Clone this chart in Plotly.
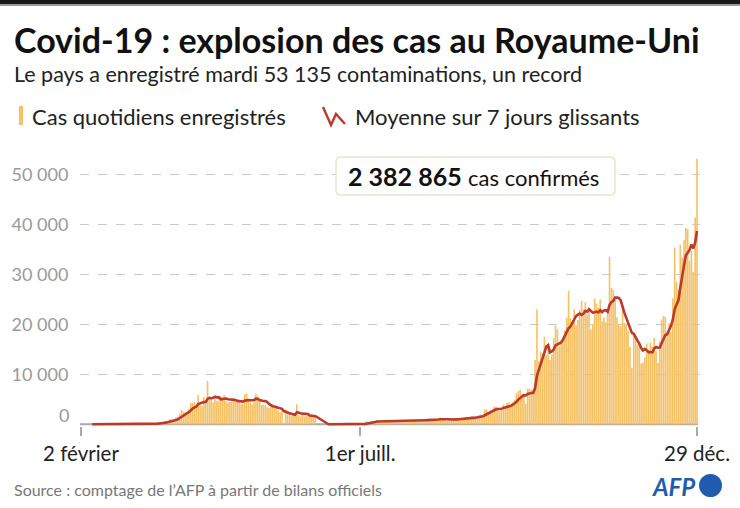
import plotly.graph_objects as go
import pandas as pd

# ---------------- DATA ----------------
debut = "2020-02-02"

cas_fev = [0, 0, 0, 0, 1, 0, 0, 0, 4, 1, 0, 1, 0, 0, 0, 0, 0, 0, 0, 0, 0, 4, 0, 0, 3, 2, 3, 3]
cas_mars = [13, 4, 11, 34, 30, 48, 43, 67, 48, 61, 83, 134, 208, 342, 251, 152, 407, 676, 643, 714,
            1035, 665, 967, 1427, 1452, 2129, 2885, 2546, 2433, 2619, 3009]
cas_avr = [4324, 4244, 4450, 3735, 5903, 3802, 3634, 5491, 4344, 8681, 5233, 5288, 4342, 5252, 4603,
           4617, 5599, 5525, 5850, 4676, 4301, 4451, 4583, 5386, 4913, 4463, 4309, 3996, 4076, 6032]
cas_mai = [6201, 4806, 4339, 3985, 4406, 6111, 5614, 4649, 3896, 3923, 3877, 3403, 3242, 3446, 3560,
           3450, 3534, 2684, 2412, 2615, 300, 2959, 2012, 2409, 1625, 1887, 2095, 4000, 1805, 1557, 1936]
cas_juin = [1570, 1653, 1871, 1805, 1650, 1557, 1326, 0, 0, 0, 0, 0, 0, 0, 0,
            0, 0, 0, 0, 0, 0, 0, 0, 0, 0, 0, 0, 0, 0, 0]
cas_juil = [0, 0, 0, 624, 516, 352, 581, 630, 512, 820, 651, 650, 530, 538, 463, 642, 687, 827, 726,
            580, 445, 560, 769, 768, 767, 747, 685, 581, 763, 846, 880]
cas_aout = [744, 742, 938, 670, 892, 950, 871, 758, 1062, 816, 1148, 1009, 1441, 1012, 1040, 713, 713,
            1089, 812, 1182, 1033, 1288, 1041, 853, 1184, 1048, 1522, 1276, 1108, 1715, 1406]
cas_sept = [1295, 1508, 1735, 1940, 1813, 2988, 2948, 2460, 2659, 2919, 3539, 3497, 3330, 2621, 3105,
            3991, 3395, 4322, 4422, 3899, 4368, 4926, 6178, 6634, 6874, 6042, 5693, 4044, 7143, 7108]
cas_oct = [6914, 6968, 12872, 22961, 12594, 14542, 14162, 17540, 13864, 15166, 12872, 13972, 17234,
           19724, 18980, 15650, 16171, 16982, 18804, 21331, 26688, 21242, 20530, 23012, 19790, 20890,
           22885, 24701, 23065, 24405, 21915]
cas_nov = [23254, 18950, 20018, 25177, 24141, 23287, 24957, 20572, 21350, 20412, 22950, 33470, 27301,
           26860, 24962, 21363, 20051, 19609, 22915, 20252, 19875, 18662, 15450, 11299, 18213, 17555,
           16022, 15871, 12155, 12330]
cas_dec = [13430, 16170, 14879, 16298, 15539, 17272, 14718, 12282, 16578, 20964, 21672, 21502, 18447,
           20263, 18450, 25161, 35383, 28507, 27052, 35928, 33364, 36804, 39237, 39036, 32725, 34693,
           30501, 41385, 53135]

moy_fev = [None, None, None, None, None, None, 0.1, 0.1, 0.7, 0.9, 0.9, 0.9, 0.9, 0.9, 0.9, 0.3, 0.1,
           0.1, 0, 0, 0, 0.6, 0.6, 0.6, 1.0, 1.3, 1.7, 2.1]
moy_mars = [3, 4, 6, 10, 14, 20, 26, 34, 40, 47, 54, 69, 92, 135, 161, 176, 225, 310, 383, 455, 554,
            613, 730, 875, 986, 1198, 1509, 1724, 1977, 2213, 2439]
moy_avr = [2849, 3151, 3375, 3545, 4041, 4210, 4299, 4466, 4480, 5084, 5298, 5210, 5288, 5519, 5392,
           5431, 4991, 5032, 5113, 5160, 5024, 5003, 4998, 4967, 4880, 4682, 4629, 4586, 4532, 4739]
moy_mai = [4856, 4840, 4823, 4776, 4835, 5126, 5066, 4844, 4714, 4655, 4639, 4496, 4086, 3777, 3621,
           3557, 3502, 3331, 3190, 3100, 2651, 2565, 2359, 2199, 2047, 1972, 1898, 2427, 2262, 2197, 2129]
moy_juin = [2121, 2088, 2056, 1742, 1720, 1720, 1633, 1409, 1173, 905, 648, 412, 189, 0, 0,
            0, 0, 0, 0, 0, 0, 0, 0, 0, 0, 0, 0, 0, 0, 0]
moy_juil = [0, 0, 0, 89, 163, 213, 296, 386, 459, 576, 580, 599, 625, 619, 595, 613, 594, 620, 630,
            638, 624, 638, 656, 668, 659, 662, 677, 697, 726, 737, 753]
moy_aout = [749, 749, 785, 798, 816, 831, 830, 832, 877, 860, 928, 945, 1015, 1035, 1075, 1026, 1011,
            1002, 974, 937, 940, 976, 1023, 1043, 1056, 1090, 1138, 1173, 1147, 1244, 1323]
moy_sept = [1339, 1404, 1435, 1530, 1630, 1812, 2032, 2199, 2363, 2532, 2761, 3001, 3050, 3004, 3096,
            3286, 3354, 3466, 3598, 3679, 3929, 4189, 4501, 4964, 5329, 5560, 5816, 5770, 6087, 6220]
moy_oct = [6260, 6273, 7249, 9716, 10937, 11994, 13002, 14520, 15505, 15833, 14391, 14588, 14973,
           15767, 15973, 16228, 16372, 16959, 17649, 18235, 19229, 19553, 20250, 21227, 21628, 21926,
           22148, 21864, 22125, 22678, 22522]
moy_nov = [23016, 22739, 22330, 22398, 22551, 22392, 22826, 22443, 22786, 22842, 22524, 23857, 24430,
           24702, 25329, 25331, 25280, 24802, 23294, 22287, 21290, 20390, 19545, 18295, 18095, 17329,
           16725, 16153, 15224, 14778]
moy_dec = [15082, 14790, 14408, 14448, 14400, 15131, 15472, 15308, 15367, 16236, 17004, 17855, 18023,
           18815, 19697, 20923, 22983, 23959, 24752, 27249, 29121, 31743, 33754, 34275, 34878, 35970,
           35194, 36340, 38673]

y_ticks = [10000, 20000, 30000, 40000, 50000]
y_labels = ["10 000", "20 000", "30 000", "40 000", "50 000"]
x_ticks = ["2020-02-02", "2020-07-01", "2020-12-29"]
x_labels = ["2 février", "1er juill.", "29 déc."]

total_label = "2 382 865"

cas = cas_fev + cas_mars + cas_avr + cas_mai + cas_juin + cas_juil + cas_aout + cas_sept + cas_oct + cas_nov + cas_dec
moy = moy_fev + moy_mars + moy_avr + moy_mai + moy_juin + moy_juil + moy_aout + moy_sept + moy_oct + moy_nov + moy_dec
dates = pd.date_range(debut, periods=len(cas), freq="D")

# ---------------- LAYOUT HELPERS ----------------
WIDTH, HEIGHT = 740, 508
L, R, T, B = 80, 40, 149, 82
W = WIDTH - L - R
H = HEIGHT - T - B


def fx(px):
    return (px - L) / W


def fy(py):
    return (HEIGHT - B - py) / H


FONT = "Lato"
BAR = "#F6C164"
LINE = "#BC3A2B"
AFP_BLUE = "#1F5CB0"

fig = go.Figure()
fig.add_trace(go.Bar(x=dates, y=cas, marker=dict(color=BAR, line=dict(width=0)), hoverinfo="skip"))
fig.add_trace(go.Scatter(x=dates, y=moy, mode="lines", line=dict(color=LINE, width=2.6),
                         connectgaps=False, hoverinfo="skip"))

px_per_day = 616 / 331.0
x0 = pd.Timestamp(x_ticks[0]) - pd.Timedelta(days=1 / px_per_day)
x1 = pd.Timestamp(x_ticks[-1]) + pd.Timedelta(days=3 / px_per_day)

fig.update_layout(
    width=WIDTH, height=HEIGHT,
    margin=dict(l=L, r=R, t=T, b=B, autoexpand=False),
    paper_bgcolor="white", plot_bgcolor="white",
    showlegend=False, bargap=0.12, hovermode=False,
    font=dict(family=FONT, color="#222"),
    xaxis=dict(type="date", range=[x0, x1], tickvals=x_ticks, ticktext=x_labels,
               ticks="outside", ticklen=9, tickwidth=1.5, tickcolor="#aaaaaa",
               showgrid=False, showline=False, zeroline=False, automargin=False,
               tickfont=dict(family=FONT, size=20.5, color="#222")),
    yaxis=dict(range=[-340, 55060], tickvals=y_ticks, ticktext=y_labels,
               showgrid=True, gridcolor="#c9c9c9", griddash="dash", gridwidth=1,
               zeroline=False, showline=False, ticks="outside", ticklen=7,
               tickcolor="rgba(0,0,0,0)", automargin=False,
               tickfont=dict(family=FONT, size=18, color="#9a9a9a")),
)

shapes = []
# top black band
shapes.append(dict(type="rect", xref="paper", yref="paper", x0=fx(0), x1=fx(WIDTH), y0=fy(4), y1=fy(0),
                   fillcolor="#1a1a1a", line=dict(width=0), layer="above"))
shapes.append(dict(type="rect", xref="paper", yref="paper", x0=fx(0), x1=fx(WIDTH), y0=fy(6), y1=fy(4),
                   fillcolor="#9a9a9a", line=dict(width=0), layer="above"))
# baseline
shapes.append(dict(type="line", xref="paper", yref="y", x0=fx(80), x1=fx(698), y0=0, y1=0,
                   line=dict(color="#aaaaaa", width=2), layer="below"))
# legend swatch
shapes.append(dict(type="rect", xref="paper", yref="paper", x0=fx(19), x1=fx(23), y0=fy(125), y1=fy(106),
                   fillcolor=BAR, line=dict(width=0)))
# legend zigzag
zz = [(323, 107), (331, 125), (336, 114), (345, 124)]
path = "M " + " L ".join(f"{fx(a):.5f},{fy(b):.5f}" for a, b in zz)
shapes.append(dict(type="path", xref="paper", yref="paper", path=path,
                   line=dict(color=LINE, width=2.4)))
# rounded box for total
bx0, bx1, by0, by1, rr = 336, 615, 157, 195, 5
pts = (f"M {fx(bx0+rr)},{fy(by0)} L {fx(bx1-rr)},{fy(by0)} Q {fx(bx1)},{fy(by0)} {fx(bx1)},{fy(by0+rr)} "
       f"L {fx(bx1)},{fy(by1-rr)} Q {fx(bx1)},{fy(by1)} {fx(bx1-rr)},{fy(by1)} "
       f"L {fx(bx0+rr)},{fy(by1)} Q {fx(bx0)},{fy(by1)} {fx(bx0)},{fy(by1-rr)} "
       f"L {fx(bx0)},{fy(by0+rr)} Q {fx(bx0)},{fy(by0)} {fx(bx0+rr)},{fy(by0)} Z")
shapes.append(dict(type="path", xref="paper", yref="paper", path=pts, fillcolor="white",
                   line=dict(color="#ece4cc", width=1.5), layer="above"))
# AFP circle
shapes.append(dict(type="circle", xref="paper", yref="paper", x0=fx(699), x1=fx(722), y0=fy(497), y1=fy(474),
                   fillcolor=AFP_BLUE, line=dict(width=0)))
fig.update_layout(shapes=shapes)

ann = []


def add_text(px, py, text, size, color="#222", anchor="left"):
    ann.append(dict(xref="paper", yref="paper", x=fx(px), y=fy(py), text=text, showarrow=False,
                    xanchor=anchor, yanchor="middle", align=anchor,
                    font=dict(family=FONT, size=size, color=color)))


add_text(12, 40, "<b>Covid-19 : explosion des cas au Royaume-Uni</b>", 34, "#111")
add_text(12, 74, "Le pays a enregistré mardi 53 135 contaminations, un record", 21.5, "#222")
add_text(30, 116, "Cas quotidiens enregistrés", 22, "#222")
add_text(353, 116, "Moyenne sur 7 jours glissants", 22, "#222")
add_text(71, 415, "0", 18, "#9a9a9a", anchor="right")
add_text(346, 176, f"<b>{total_label}</b> <span style='font-size:22px'>cas confirmés</span>", 25, "#111")
add_text(12, 489, "Source : comptage de l’AFP à partir de bilans officiels", 16, "#777")
add_text(697, 486, "<b><i>AFP</i></b>", 24, AFP_BLUE, anchor="right")
fig.update_layout(annotations=ann)

fig.write_html("out.html", config={"displayModeBar": False, "staticPlot": True},
               post_script="document.body.style.margin='0';document.body.style.padding='0';")
